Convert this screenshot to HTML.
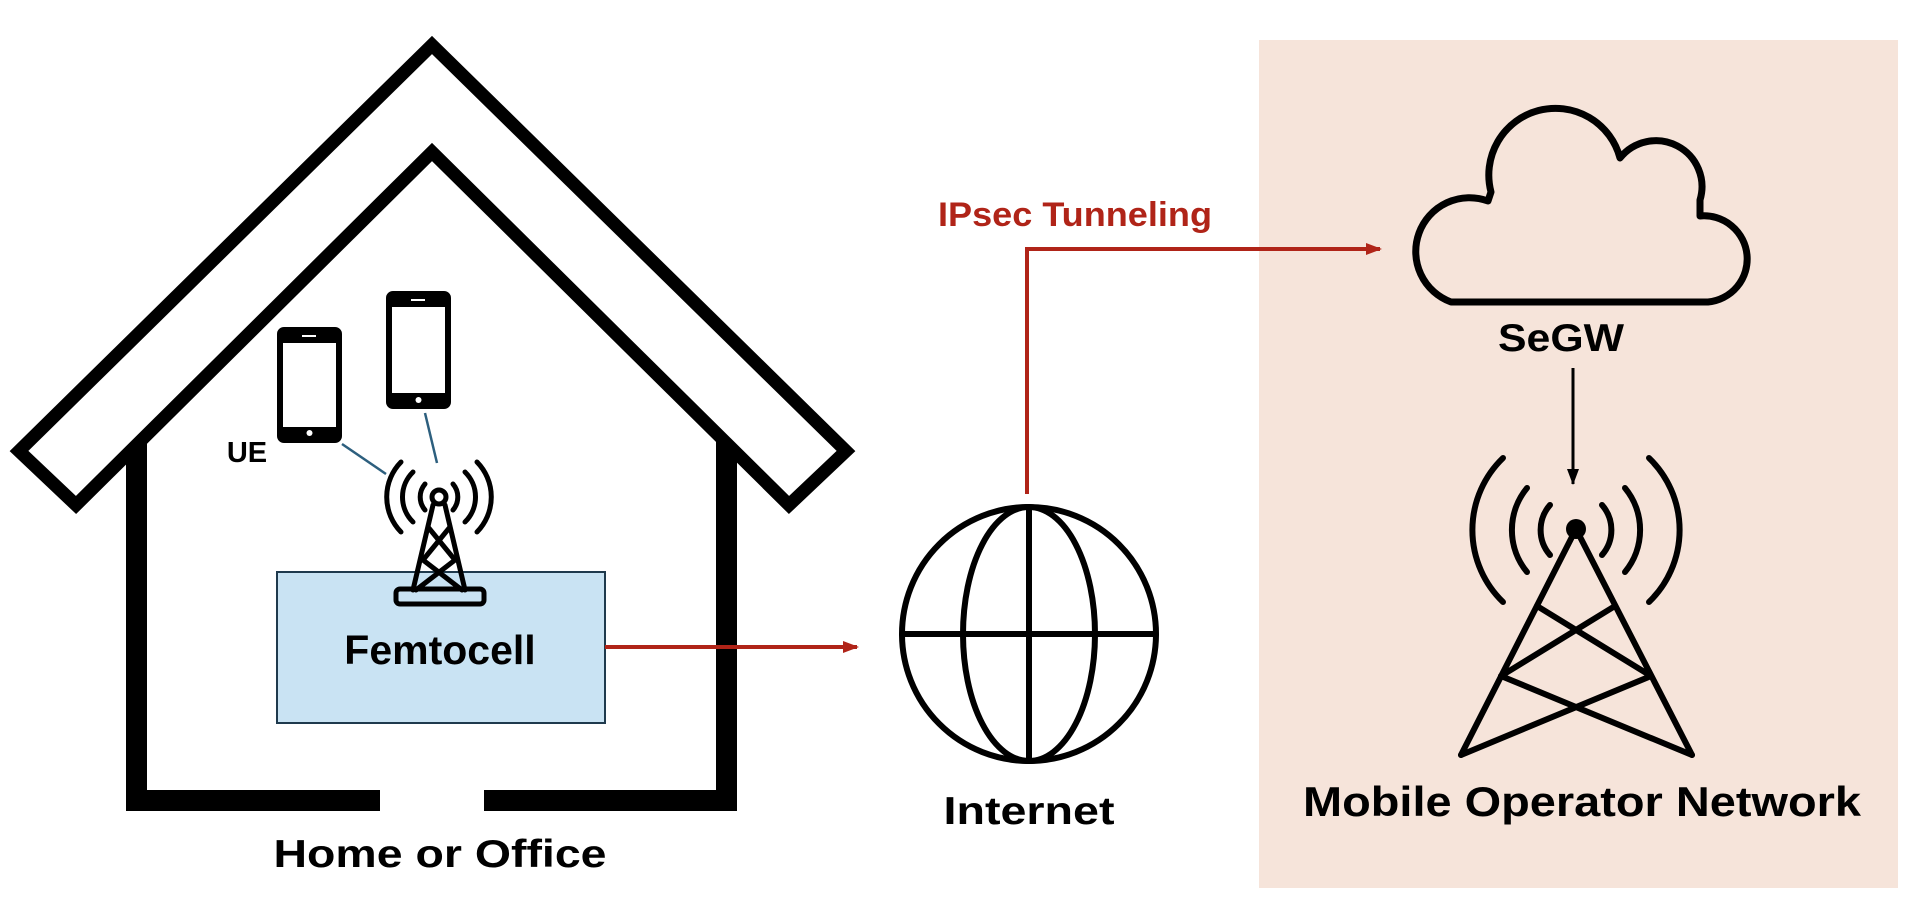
<!DOCTYPE html>
<html><head><meta charset="utf-8"><style>
html,body{margin:0;padding:0;background:#fff;width:1920px;height:913px;overflow:hidden}
text{font-family:"Liberation Sans","Noto Sans CJK KR",sans-serif;font-weight:bold}
</style></head><body>
<svg width="1920" height="913" viewBox="0 0 1920 913" xmlns="http://www.w3.org/2000/svg">
<defs>
<marker id="ar" markerWidth="16" markerHeight="12" refX="14" refY="6" orient="auto" markerUnits="userSpaceOnUse"><path d="M0,0 L16,6 L0,12 Z" fill="#b02418"/></marker>
<marker id="ab" markerWidth="12" markerHeight="16" refX="6" refY="15" orient="0" markerUnits="userSpaceOnUse"><path d="M0,0 L12,0 L6,16 Z" fill="#000"/></marker>
</defs>
<rect x="1259" y="40" width="639" height="848" fill="#f6e4da"/>
<g fill="#000">
<rect x="126" y="440" width="21" height="371"/>
<rect x="716" y="440" width="21" height="371"/>
<rect x="126" y="790" width="254" height="21"/>
<rect x="484" y="790" width="253" height="21"/>
</g>
<polygon points="432,45 846,451 789,505 432,152 76,505 19,451" fill="#fff" stroke="#000" stroke-width="13" stroke-linejoin="miter"/>
<g fill="none" stroke="#000">
<rect x="280" y="330" width="59" height="110" rx="4" stroke-width="6"/>
<rect x="389" y="294" width="59" height="112" rx="4" stroke-width="6"/>
</g>
<g fill="#000">
<rect x="280" y="330" width="59" height="13" rx="3"/><rect x="280" y="427" width="59" height="13" rx="3"/>
<rect x="389" y="294" width="59" height="13" rx="3"/><rect x="389" y="393" width="59" height="13" rx="3"/>
</g>
<g fill="#fff"><rect x="302" y="335" width="14" height="2"/><circle cx="309.5" cy="433" r="3"/>
<rect x="411" y="299" width="14" height="2"/><circle cx="418.5" cy="400" r="3"/></g>
<text x="247" y="462" font-size="29" text-anchor="middle">UE</text>
<line x1="342" y1="444" x2="386" y2="474" stroke="#2d5f7e" stroke-width="2.5"/>
<line x1="425" y1="413" x2="437" y2="463" stroke="#2d5f7e" stroke-width="2.5"/>
<rect x="277" y="572" width="328" height="151" fill="#c9e3f3" stroke="#1f3a4d" stroke-width="2"/>
<text x="440" y="664" font-size="41" text-anchor="middle">Femtocell</text>
<g stroke="#000" stroke-width="5" fill="none" stroke-linecap="round">
<circle cx="439" cy="497" r="7"/>
<line x1="433" y1="505" x2="413" y2="590"/><line x1="445" y1="505" x2="465" y2="590"/>
<line x1="428" y1="527" x2="455" y2="560"/><line x1="450" y1="527" x2="423" y2="560"/>
<line x1="423" y1="560" x2="462" y2="590"/><line x1="455" y1="560" x2="416" y2="590"/>
<rect x="396" y="589" width="88" height="15" rx="4"/>
<path d="M425,484 A20,20 0 0 0 425,510"/><path d="M453,484 A20,20 0 0 1 453,510"/>
<path d="M413,472 A35,35 0 0 0 413,522"/><path d="M465,472 A35,35 0 0 1 465,522"/>
<path d="M401,462 A50,50 0 0 0 401,532"/><path d="M477,462 A50,50 0 0 1 477,532"/>
</g>
<line x1="605" y1="647" x2="857" y2="647" stroke="#b02418" stroke-width="4" marker-end="url(#ar)"/>
<text x="440" y="867" font-size="39" text-anchor="middle" textLength="333" lengthAdjust="spacingAndGlyphs">Home or Office</text>
<g stroke="#000" stroke-width="6" fill="none">
<circle cx="1029" cy="634" r="127"/>
<ellipse cx="1029" cy="634" rx="66" ry="127"/>
<line x1="902" y1="634" x2="1156" y2="634"/>
<line x1="1029" y1="507" x2="1029" y2="761"/>
</g>
<text x="1029" y="824" font-size="39" text-anchor="middle" textLength="171" lengthAdjust="spacingAndGlyphs">Internet</text>
<polyline points="1027,494 1027,249 1380,249" fill="none" stroke="#b02418" stroke-width="4" marker-end="url(#ar)"/>
<text x="1075" y="226" font-size="34" fill="#b02418" text-anchor="middle" textLength="274" lengthAdjust="spacingAndGlyphs">IPsec Tunneling</text>
<path d="M1451,302 A52,52 0 0 1 1488,201 L1491,192 A66,66 0 0 1 1620,158 A46,46 0 0 1 1700,200 L1700,216 A43,43 0 0 1 1708,302 Z" fill="none" stroke="#000" stroke-width="7" stroke-linejoin="round"/>
<text x="1561" y="351" font-size="39" text-anchor="middle" textLength="126" lengthAdjust="spacingAndGlyphs">SeGW</text>
<line x1="1573" y1="368" x2="1573" y2="484" stroke="#000" stroke-width="3" marker-end="url(#ab)"/>
<g stroke="#000" stroke-width="6" fill="none" stroke-linecap="round">
<line x1="1576" y1="529" x2="1461" y2="755"/><line x1="1576" y1="529" x2="1692" y2="755"/>
<line x1="1537" y1="606" x2="1651" y2="676"/><line x1="1615" y1="606" x2="1501" y2="676"/>
<line x1="1501" y1="676" x2="1692" y2="755"/><line x1="1651" y1="676" x2="1461" y2="755"/>
<path d="M1550,505 A38,38 0 0 0 1550,555"/><path d="M1602,505 A38,38 0 0 1 1602,555"/>
<path d="M1527,488 A66,66 0 0 0 1527,572"/><path d="M1625,488 A66,66 0 0 1 1625,572"/>
<path d="M1503,458 A100,100 0 0 0 1503,602"/><path d="M1649,458 A100,100 0 0 1 1649,602"/>
</g>
<circle cx="1576" cy="529" r="10" fill="#000"/>
<text x="1582" y="816" font-size="42" text-anchor="middle" textLength="558" lengthAdjust="spacingAndGlyphs">Mobile Operator Network</text>
</svg>
</body></html>
